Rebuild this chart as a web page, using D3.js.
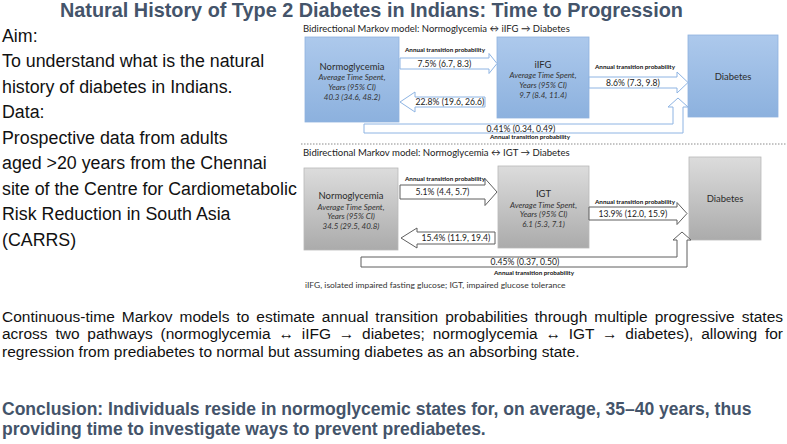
<!DOCTYPE html>
<html><head><meta charset="utf-8">
<script src="https://cdn.jsdelivr.net/npm/d3@7"></script>
<style>html,body{margin:0;padding:0;background:#fff;}svg{display:block;}</style>
</head><body>
<svg id="c" width="787" height="444"></svg>
<script>
// ---------------- data ----------------
const title = "Natural History of Type 2 Diabetes in Indians: Time to Progression";
const leftLines = ["Aim:", "To understand what is the natural", "history of diabetes in Indians.", "Data:",
  "Prospective data from adults", "aged >20 years from the Chennai", "site of the Centre for Cardiometabolic",
  "Risk Reduction in South Asia", "(CARRS)"];
const panelTitles = ["Bidirectional Markov model: Normoglycemia \u2194 iIFG \u2192 Diabetes",
                     "Bidirectional Markov model: Normoglycemia \u2194 IGT \u2192 Diabetes"];
const stateNames = [["Normoglycemia", "iIFG", "Diabetes"], ["Normoglycemia", "IGT", "Diabetes"]];
const timeSpent = [["40.3 (34.6, 48.2)", "9.7 (8.4, 11.4)"], ["34.5 (29.5, 40.8)", "6.1 (5.3, 7.1)"]];
const forwardProb = ["7.5% (6.7, 8.3)", "5.1% (4.4, 5.7)"];
const backwardProb = ["22.8% (19.6, 26.6)", "15.4% (11.9, 19.4)"];
const progressProb = ["8.6% (7.3, 9.8)", "13.9% (12.0, 15.9)"];
const directProb = ["0.41% (0.34, 0.49)", "0.45% (0.37, 0.50)"];
const arrowLabel = "Annual transition probability";
const footnote = "iIFG, isolated impaired fasting glucose; IGT, impaired glucose tolerance";
const paragraph = ["Continuous-time Markov models to estimate annual transition probabilities through multiple progressive states",
  "across two pathways (normoglycemia \u2194 iIFG \u2192 diabetes; normoglycemia \u2194 IGT \u2192 diabetes), allowing for",
  "regression from prediabetes to normal but assuming diabetes as an absorbing state."];
const conclusion = ["Conclusion: Individuals reside in normoglycemic states for, on average, 35\u201340 years, thus",
  "providing time to investigate ways to prevent prediabetes."];

// ---------------- drawing ----------------
const svg = d3.select("#c");
const SANS = "'Liberation Sans', Arial, sans-serif";
const DIA = "Lato, 'Open Sans', sans-serif";
const SLATE = "#44546a";

function fit(sel, w) {
  const len = sel.node().getComputedTextLength();
  const fs = parseFloat(sel.attr("font-size"));
  sel.attr("font-size", fs * w / len);
  return fs * w / len;
}

const defs = svg.append("defs");
const gBlue = defs.append("linearGradient").attr("id", "gBlue").attr("x1", 0).attr("y1", 0).attr("x2", 0).attr("y2", 1);
gBlue.append("stop").attr("offset", 0).attr("stop-color", "#adc9ec");
gBlue.append("stop").attr("offset", 1).attr("stop-color", "#8cb1de");
const gGray = defs.append("linearGradient").attr("id", "gGray").attr("x1", 0).attr("y1", 0).attr("x2", 0).attr("y2", 1);
gGray.append("stop").attr("offset", 0).attr("stop-color", "#dcdcdc");
gGray.append("stop").attr("offset", 1).attr("stop-color", "#ababab");

// title
const t = svg.append("text").attr("x", 60).attr("y", 17).attr("font-family", SANS).attr("font-weight", "bold")
  .attr("font-size", 20).attr("fill", SLATE).text(title);
fit(t, 623);

// left text
const yLeft = d3.scaleLinear().domain([0, leftLines.length - 1]).range([41.5, 245.5]);
const leftSel = svg.append("g").selectAll("text").data(leftLines).join("text")
  .attr("x", 2).attr("y", (d, i) => yLeft(i)).attr("font-family", SANS).attr("font-size", 18).attr("fill", "#111").text(d => d);
const lfs = fit(leftSel.filter((d, i) => i === 6), 295);
leftSel.attr("font-size", lfs);

// panel layouts
const layouts = [
  { fill: "url(#gBlue)", boxStroke: "#8fb2de", arrowStroke: "#8eb4e3", titleY: 32,
    boxes: [[305, 37, 94, 85], [497, 37, 92, 81], [688, 35, 90, 82]],
    fwd: { x0: 400, x1: 497, yc: 63.5, bh: 11, hh: 20, hl: 8, labY: 52 },
    bwd: { x0: 400, x1: 485, yc: 102, bh: 10, hh: 20, hl: 15 },
    prog: { x0: 589, x1: 688, yc: 82.5, bh: 11, hh: 21, hl: 11, labY: 69 },
    L: { xl: 364, yt: 124, yb: 133, vx0: 673, vx1: 683, hb: 107, tip: 98, hx0: 668, hx1: 688, tx: 521, labX: 530, labY: 139 } },
  { fill: "url(#gGray)", boxStroke: "#b8b8b8", arrowStroke: "#5f5f5f", titleY: 156,
    boxes: [[304, 168, 94, 82], [498, 166, 91, 82], [689, 157, 72, 83]],
    fwd: { x0: 400, x1: 497, yc: 192, bh: 14, hh: 27, hl: 12, labY: 181 },
    bwd: { x0: 401, x1: 495, yc: 238, bh: 12, hh: 20, hl: 16 },
    prog: { x0: 589, x1: 687, yc: 213.5, bh: 13, hh: 22, hl: 10, labY: 204 },
    L: { xl: 361, yt: 257, yb: 267, vx0: 677, vx1: 687, hb: 240, tip: 232, hx0: 673, hx1: 691, tx: 525, labX: 534, labY: 275 } }
];

function rightArrow(a) {
  const b = a.bh / 2, h = a.hh / 2, bx = a.x1 - a.hl;
  return [[a.x0, a.yc - b], [bx, a.yc - b], [bx, a.yc - h], [a.x1, a.yc], [bx, a.yc + h], [bx, a.yc + b], [a.x0, a.yc + b]];
}
function leftArrow(a) {
  const b = a.bh / 2, h = a.hh / 2, bx = a.x0 + a.hl;
  return [[a.x1, a.yc - b], [bx, a.yc - b], [bx, a.yc - h], [a.x0, a.yc], [bx, a.yc + h], [bx, a.yc + b], [a.x1, a.yc + b]];
}
function lArrow(L) {
  const cx = (L.hx0 + L.hx1) / 2;
  return [[L.xl, L.yt], [L.vx0, L.yt], [L.vx0, L.hb], [L.hx0, L.hb], [cx, L.tip], [L.hx1, L.hb], [L.vx1, L.hb], [L.vx1, L.yb], [L.xl, L.yb]];
}
const line = d3.line().curve(d3.curveLinearClosed);

let nameFs = null, itFs = null;
layouts.forEach((lay, p) => {
  const g = svg.append("g");
  g.append("text").attr("x", 303).attr("y", lay.titleY).attr("font-family", DIA).attr("font-size", 9.5)
    .attr("fill", "#222").text(panelTitles[p]).call(s => fit(s, 267));

  // boxes
  lay.boxes.forEach((b, i) => {
    g.append("rect").attr("x", b[0]).attr("y", b[1]).attr("width", b[2]).attr("height", b[3])
      .attr("fill", lay.fill).attr("stroke", lay.boxStroke).attr("stroke-width", 0.8);
    const cx = b[0] + b[2] / 2;
    if (i < 2) {
      const top = b[1] + b[3] / 2 - 10;
      const nm = g.append("text").attr("x", cx).attr("y", top).attr("text-anchor", "middle").attr("font-family", DIA)
        .attr("font-size", nameFs || 11).attr("fill", "#2b2b2b").text(stateNames[p][i]);
      if (!nameFs) nameFs = fit(nm, 65);
      ["Average Time Spent,", "Years (95% CI)", timeSpent[p][i]].forEach((s, k) => {
        const it = g.append("text").attr("x", cx).attr("y", top + 10.5 + k * 9.8).attr("text-anchor", "middle")
          .attr("font-family", DIA).attr("font-style", "italic").attr("font-size", itFs || 8.5).attr("fill", "#333").text(s);
        if (!itFs) itFs = fit(it, 67);
      });
    } else {
      g.append("text").attr("x", cx).attr("y", b[1] + 45).attr("text-anchor", "middle").attr("font-family", DIA)
        .attr("font-size", nameFs).attr("fill", "#2b2b2b").text(stateNames[p][i]);
    }
  });

  // arrows
  const drawArrow = pts => g.append("path").attr("d", line(pts)).attr("fill", "#fff")
    .attr("stroke", lay.arrowStroke).attr("stroke-width", 1);
  drawArrow(rightArrow(lay.fwd));
  drawArrow(leftArrow(lay.bwd));
  drawArrow(rightArrow(lay.prog));
  drawArrow(lArrow(lay.L));

  const valText = (x, y, s) => g.append("text").attr("x", x).attr("y", y + 3).attr("text-anchor", "middle")
    .attr("font-family", DIA).attr("font-size", 8.6).attr("fill", "#222").text(s);
  const labText = (x, y) => g.append("text").attr("x", x).attr("y", y).attr("text-anchor", "middle")
    .attr("font-family", DIA).attr("font-weight", "bold").attr("font-size", 6.3).attr("fill", "#111").text(arrowLabel);

  valText((lay.fwd.x0 + lay.fwd.x1 - lay.fwd.hl) / 2, lay.fwd.yc, forwardProb[p]);
  labText(445, lay.fwd.labY);
  valText((lay.bwd.x0 + lay.bwd.hl + lay.bwd.x1) / 2, lay.bwd.yc, backwardProb[p]);
  valText((lay.prog.x0 + lay.prog.x1 - lay.prog.hl) / 2, lay.prog.yc, progressProb[p]);
  labText(635, lay.prog.labY);
  valText(lay.L.tx, (lay.L.yt + lay.L.yb) / 2, directProb[p]);
  labText(lay.L.labX, lay.L.labY);
});

// separator
svg.append("line").attr("x1", 301).attr("x2", 787).attr("y1", 144).attr("y2", 144)
  .attr("stroke", "#8a8a8a").attr("stroke-width", 1).attr("stroke-dasharray", "1.5,1.5");

// footnote
svg.append("text").attr("x", 305).attr("y", 288).attr("font-family", DIA).attr("font-size", 7.5)
  .attr("fill", "#333").text(footnote).call(s => fit(s, 261));

// paragraph
const yPar = d3.scaleLinear().domain([0, 2]).range([322, 356.5]);
const parSel = svg.append("g").selectAll("text").data(paragraph).join("text")
  .attr("x", 2).attr("y", (d, i) => yPar(i)).attr("font-family", SANS).attr("font-size", 15)
  .attr("fill", "#111").text(d => d);
const pfs = fit(parSel.filter((d, i) => i === 2), 578);
parSel.attr("font-size", pfs);
parSel.filter((d, i) => i < 2).each(function (d) {
  const len = this.getComputedTextLength();
  const spaces = d.split(" ").length - 1;
  d3.select(this).attr("word-spacing", (781 - len) / spaces);
});

// conclusion
const yCon = d3.scaleLinear().domain([0, 1]).range([415, 434.5]);
const conSel = svg.append("g").selectAll("text").data(conclusion).join("text")
  .attr("x", 2).attr("y", (d, i) => yCon(i)).attr("font-family", SANS).attr("font-weight", "bold")
  .attr("font-size", 17).attr("fill", SLATE).text(d => d);
const cfs = fit(conSel.filter((d, i) => i === 0), 750);
conSel.attr("font-size", cfs);
</script>
</body></html>
